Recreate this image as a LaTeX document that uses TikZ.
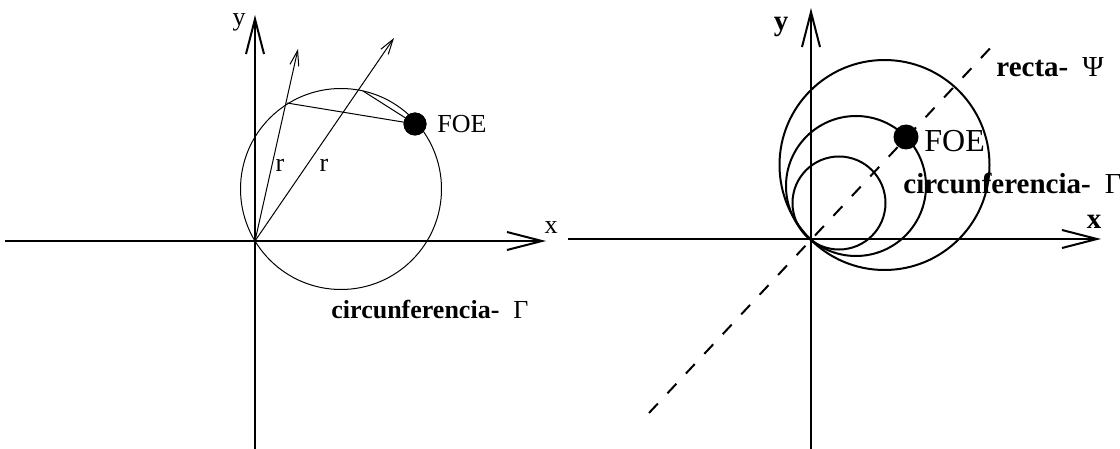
\documentclass[tikz,border=0pt]{standalone}
\usepackage{fontspec}
\setmainfont{Liberation Serif}
\usetikzlibrary{arrows.meta}
\begin{document}
\begin{tikzpicture}[x=0.5pt,y=-0.5pt,
  axis/.style={line width=1pt,-{Straight Barb[length=17.5pt,width=9pt]}},
  vec/.style={line width=0.5pt,-{Straight Barb[length=7.5pt,width=4.5pt]}},
  thinline/.style={line width=0.5pt},
  thickcirc/.style={line width=1pt},
  dashline/.style={line width=1pt,dash pattern=on 6.5pt off 7pt},
  dot/.style={circle,fill=black,draw=none,inner sep=0pt},
  lbl/.style={inner sep=0pt,anchor=base west},
  small/.style={font=\fontsize{13}{15}\selectfont},
  big/.style={font=\fontsize{14.5}{17}\selectfont},
  bigger/.style={font=\fontsize{16}{19}\selectfont}]
\useasboundingbox (0,0) rectangle (1120,449);
% ---------- left diagram ----------
\coordinate (oL) at (255,241);
\coordinate (xLs) at (5,241);
\coordinate (xLe) at (546,241);
\coordinate (yLs) at (255,449);
\coordinate (yLe) at (255,15);
\draw[axis] (xLs) -- (xLe);
\draw[axis] (yLs) -- (yLe);
\draw[thinline] (341,189) circle[radius=100.5];
\coordinate (t1) at (298,49);
\coordinate (t2) at (394,38);
\draw[vec] (oL) -- (t1);
\draw[vec] (oL) -- (t2);
\coordinate (p1) at (287,103);
\coordinate (p2) at (363,91);
\node[dot,minimum size=11.5pt] (foeL) at (415,124) {};
\draw[thinline] (p1) -- (foeL.center);
\draw[thinline] (p2) -- (foeL.center);
\node[dot,minimum size=11.5pt] at (foeL.center) {};
\node[small] (yL) at (239,22) {y};
\node[small] (xL) at (551,228) {x};
\node[small] (r1) at (280,165) {r};
\node[small] (r2) at (324,165) {r};
\node[small,lbl] (foeLt) at (437,133) {FOE};
\node[small,lbl] (gamL) at (331,318) {\textbf{circunferencia-}\hspace{7pt}Γ};
% ---------- right diagram ----------
\coordinate (oR) at (811,239);
\coordinate (xRs) at (568,239);
\coordinate (xRe) at (1101,239);
\coordinate (yRs) at (811,449);
\coordinate (yRe) at (811,8);
\coordinate (dA) at (649,413);
\coordinate (dB) at (995,43);
\draw[dashline] (dA) -- (dB);
\draw[thickcirc] (839,203) circle[radius=46.5];
\draw[thickcirc] (856,186) circle[radius=70];
\draw[thickcirc] (884.5,165) circle[radius=105];
\draw[axis] (xRs) -- (xRe);
\draw[axis] (yRs) -- (yRe);
\node[dot,minimum size=12.5pt] (foeR) at (906,137) {};
\node[big] (yR) at (781,27) {\textbf{y}};
\node[big] (xR) at (1094,222) {\textbf{x}};
\node[bigger,lbl] (foeRt) at (924,152) {FOE};
\node[big,lbl] (psi) at (996,77) {\textbf{recta-}\hspace{7pt}Ψ};
\node[big,lbl] (gamR) at (903,193) {\textbf{circunferencia-}\hspace{7pt}Γ};
\end{tikzpicture}
\end{document}
